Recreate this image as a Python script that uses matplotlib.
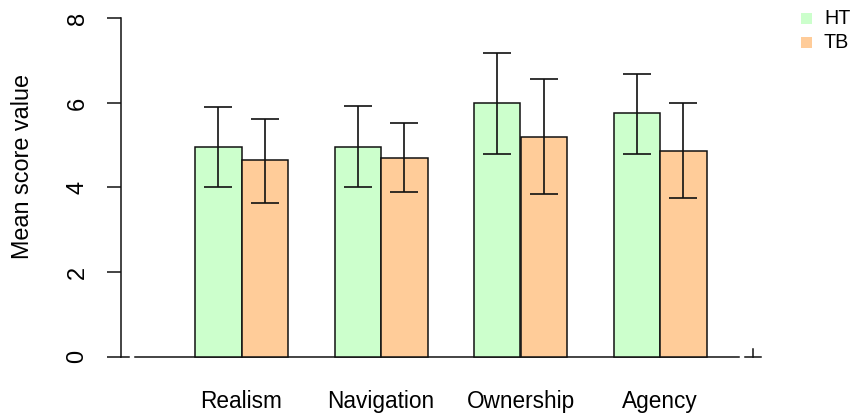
import matplotlib
matplotlib.use("Agg")
import matplotlib.pyplot as plt
from matplotlib.patches import Rectangle
import numpy as np

plt.rcParams['font.family'] = ['Liberation Sans', 'DejaVu Sans']

categories = ["Realism", "Navigation", "Ownership", "Agency"]
series = ["HT", "TB"]
ht_mean = [4.96, 4.97, 5.99, 5.76]
ht_low = [4.01, 4.00, 4.79, 4.79]
ht_high = [5.90, 5.94, 7.19, 6.69]
tb_mean = [4.64, 4.71, 5.20, 4.87]
tb_low = [3.64, 3.89, 3.85, 3.76]
tb_high = [5.62, 5.53, 6.56, 5.99]
yticks = [0, 2, 4, 6, 8]
colors = {"HT": "#CCFFCC", "TB": "#FFCC99"}

W, H = 850, 417
fig = plt.figure(figsize=(W / 100, H / 100), dpi=100)

# pixel geometry
L, R, T, B = 121, 770, 10, 375
x0px, xu = 148.5, 46.5      # data x=0 pixel, px per unit
y0px, yu = 356.5, 42.25     # data y=0 pixel, px per unit
ax = fig.add_axes([L / W, 1 - B / H, (R - L) / W, (B - T) / H])
ax.set_xlim((L - x0px) / xu, (R - x0px) / xu)
ax.set_ylim((y0px - B) / yu, (y0px - T) / yu)

g = np.arange(len(categories))
x_ht = 3 * g + 1.5
x_tb = 3 * g + 2.5

LC = "#111111"
ax.bar(x_ht, ht_mean, width=1, color=colors["HT"], edgecolor=LC, linewidth=1.1, zorder=2)
ax.bar(x_tb, tb_mean, width=1, color=colors["TB"], edgecolor=LC, linewidth=1.1, zorder=2)

ht_err = [np.array(ht_mean) - np.array(ht_low), np.array(ht_high) - np.array(ht_mean)]
tb_err = [np.array(tb_mean) - np.array(tb_low), np.array(tb_high) - np.array(tb_mean)]
for xs, m, e in [(x_ht, ht_mean, ht_err), (x_tb, tb_mean, tb_err)]:
    ax.errorbar(xs, m, yerr=e, fmt='none', ecolor=LC, elinewidth=1.2,
                capsize=10.4, capthick=1.2, zorder=3)

# baseline and odd axis pieces
def px2x(p):
    return (p - x0px) / xu

ax.plot([px2x(135), px2x(739)], [0, 0], color=LC, lw=1.1, zorder=1, clip_on=False)
ax.plot([px2x(745), px2x(761)], [0, 0], color=LC, lw=1.1, clip_on=False)
ax.plot([px2x(753), px2x(753)], [0, (y0px - 349) / yu], color=LC, lw=1.1, clip_on=False)
ax.plot([px2x(121), px2x(129)], [0, 0], color=LC, lw=1.1, clip_on=False)

for s in ["top", "right", "bottom"]:
    ax.spines[s].set_visible(False)
ax.spines["left"].set_bounds(0, 8)
ax.spines["left"].set_linewidth(1.1)
ax.spines["left"].set_color(LC)
ax.set_yticks(yticks)
ax.set_yticklabels([str(v) for v in yticks], rotation=90, va="center", fontsize=17)
ax.tick_params(axis="y", direction="out", length=10.1, width=1.1, color=LC, pad=13.3)
ax.set_xticks([])

for xc, lab in zip((x_ht + x_tb) / 2, categories):
    ax.text(xc, (y0px - 407.7) / yu, lab, ha="center", va="baseline", fontsize=16.3, clip_on=False)

fig.text(23 / W, 1 - 166.5 / H, "Mean score value", rotation=90, ha="center", va="center", fontsize=16.8)

# legend
for i, s in enumerate(series):
    top = 13 + i * 23.5
    fig.add_artist(Rectangle((800.5 / W, 1 - (top + 11) / H), 11 / W, 11 / H,
                             transform=fig.transFigure, facecolor=colors[s], edgecolor="none"))
    fig.text(824 / W, 1 - (top + 5.5) / H, s, ha="left", va="center", fontsize=14.2)

fig.savefig("out.png", dpi=100)
